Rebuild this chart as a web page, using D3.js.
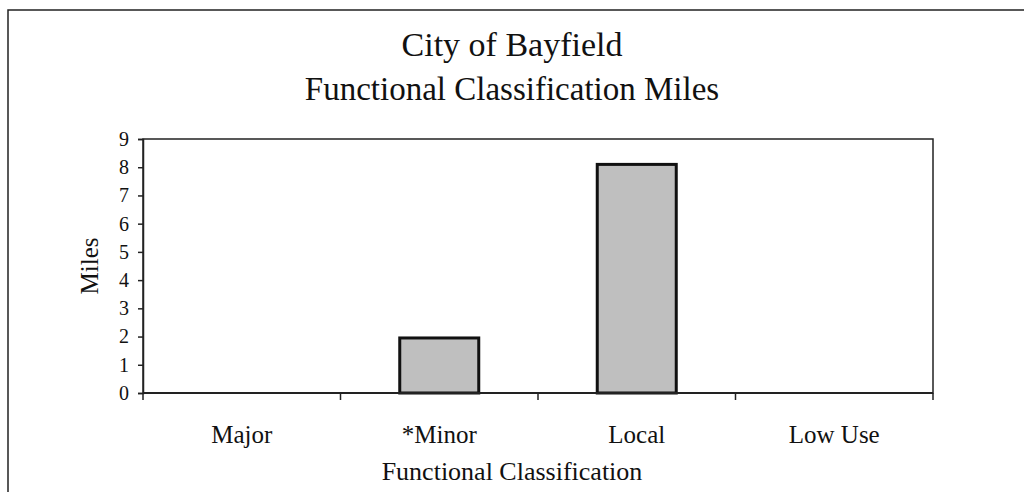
<!DOCTYPE html>
<html>
<head>
<meta charset="utf-8">
<script src="https://cdn.jsdelivr.net/npm/d3@7"></script>
<style>
  body { margin: 0; background: #fff; }
  svg { display: block; font-family: "Liberation Serif", "DejaVu Serif", serif; }
</style>
</head>
<body>
<svg id="chart"></svg>
<script>
const categories = ['Major', '*Minor', 'Local', 'Low Use'];
const miles = [0, 1.95, 8.1, 0];
const yTicks = [0, 1, 2, 3, 4, 5, 6, 7, 8, 9];
const titleLines = ['City of Bayfield', 'Functional Classification Miles'];

const width = 1024;
const height = 492;
const margin = { top: 139, right: 91, bottom: 99, left: 143 };

const svg = d3.select('#chart')
    .attr('width', width)
    .attr('height', height);

// outer frame (left + top edges of the scanned box)
svg.append('path')
    .attr('d', `M8,${height} V10 H${width}`)
    .attr('fill', 'none')
    .attr('stroke', '#222')
    .attr('stroke-width', 1.5);

svg.selectAll('.title')
    .data(titleLines)
    .enter()
    .append('text')
    .attr('class', 'title')
    .attr('x', width / 2)
    .attr('y', (d, i) => 56 + i * 44)
    .attr('text-anchor', 'middle')
    .style('font-size', (d, i) => i === 0 ? '34px' : '33px')
    .style('fill', '#111')
    .text(d => d);

const innerW = width - margin.left - margin.right;
const innerH = height - margin.top - margin.bottom;

const g = svg.append('g')
    .attr('transform', `translate(${margin.left}, ${margin.top})`);

const x = d3.scaleBand()
    .domain(categories)
    .range([0, innerW])
    .paddingInner(0.6)
    .paddingOuter(0.3);

const y = d3.scaleLinear()
    .domain([0, 9])
    .range([innerH, 0]);

// plot box
g.append('rect')
    .attr('width', innerW)
    .attr('height', innerH)
    .attr('fill', 'none')
    .attr('stroke', '#222')
    .attr('stroke-width', 1.5);

const bars = categories.map((c, i) => ({ label: c, value: miles[i] }));

g.selectAll('.bar')
    .data(bars.filter(d => d.value > 0))
    .enter()
    .append('rect')
    .attr('class', 'bar')
    .attr('x', d => x(d.label))
    .attr('y', d => y(d.value))
    .attr('width', x.bandwidth())
    .attr('height', d => innerH - y(d.value))
    .attr('fill', '#bfbfbf')
    .attr('stroke', '#111')
    .attr('stroke-width', 3);

// y axis
const yAxis = g.append('g')
    .call(d3.axisLeft(y).tickValues(yTicks).tickSize(5).tickPadding(9));
yAxis.select('.domain').attr('stroke', '#222').attr('stroke-width', 1.5);
yAxis.selectAll('line').attr('stroke', '#222').attr('stroke-width', 1.5);
yAxis.selectAll('text')
    .style('font-family', '"Liberation Serif", serif')
    .style('font-size', '20px')
    .style('fill', '#111');

// x axis: ticks sit between categories
const boundaries = d3.range(categories.length + 1).map(i => i * innerW / categories.length);
const xAxis = g.append('g')
    .attr('transform', `translate(0, ${innerH})`);
xAxis.append('line')
    .attr('x1', 0).attr('x2', innerW)
    .attr('stroke', '#222').attr('stroke-width', 2);
xAxis.selectAll('.tick')
    .data(boundaries)
    .enter()
    .append('line')
    .attr('x1', d => d).attr('x2', d => d)
    .attr('y1', 0).attr('y2', 7)
    .attr('stroke', '#222')
    .attr('stroke-width', 1.5);
xAxis.selectAll('.cat')
    .data(categories)
    .enter()
    .append('text')
    .attr('x', d => x(d) + x.bandwidth() / 2)
    .attr('y', 50)
    .attr('text-anchor', 'middle')
    .style('font-size', '25px')
    .style('fill', '#111')
    .text(d => d);

// axis titles
svg.append('text')
    .attr('transform', `translate(98, ${margin.top + innerH / 2}) rotate(-90)`)
    .attr('text-anchor', 'middle')
    .style('font-size', '25px')
    .style('fill', '#111')
    .text('Miles');

svg.append('text')
    .attr('x', 512)
    .attr('y', 480)
    .attr('text-anchor', 'middle')
    .style('font-size', '26px')
    .style('fill', '#111')
    .text('Functional Classification');
</script>
</body>
</html>
